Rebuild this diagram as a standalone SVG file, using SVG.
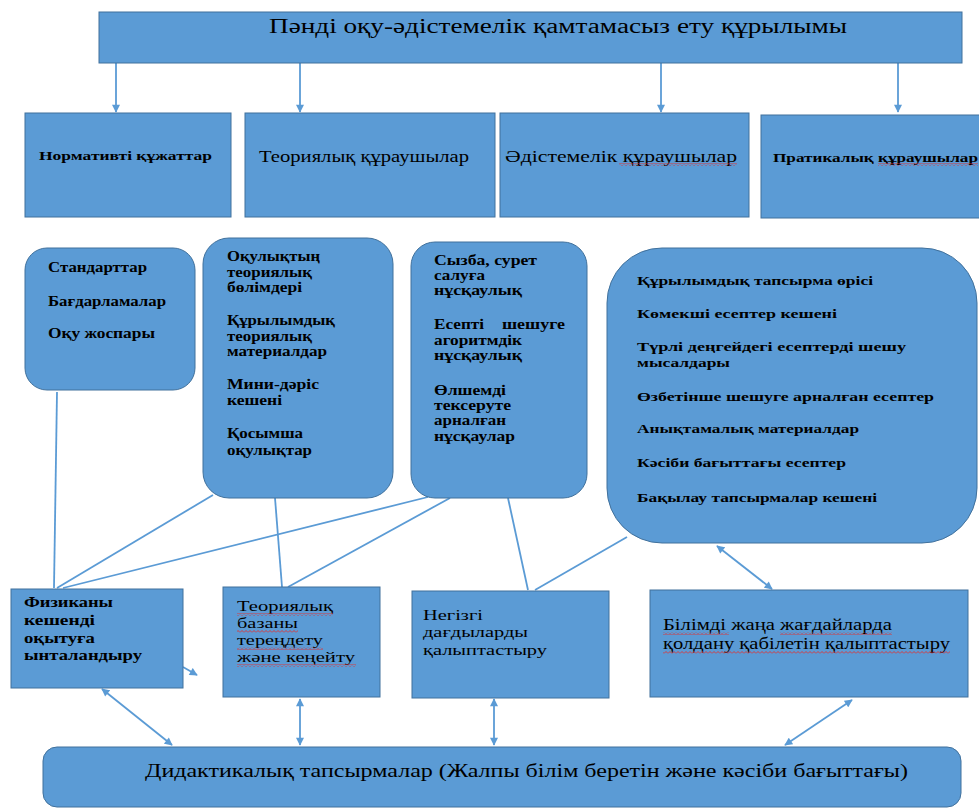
<svg xmlns="http://www.w3.org/2000/svg" width="979" height="809" viewBox="0 0 979 809">
<style>
.box{fill:#5B9BD5;stroke:#41719C;stroke-width:1}
.t{font-family:"Liberation Serif","Times New Roman",serif;fill:#000}
.b{font-weight:bold}
.c{stroke:#5B9BD5;stroke-width:1.8;fill:none}
.sq{fill:url(#wave)}
</style>
<defs>
<marker id="ah" viewBox="0 0 10 10" refX="9" refY="5" markerWidth="9" markerHeight="8" markerUnits="userSpaceOnUse" orient="auto-start-reverse">
<path d="M0 0 L10 5 L0 10 z" fill="#5B9BD5"/>
</marker>
<pattern id="wave" width="4" height="3" patternUnits="userSpaceOnUse">
<path d="M0 2.5 L2 0.5 L4 2.5" fill="none" stroke="#E03030" stroke-width="0.9"/>
</pattern>
</defs>
<rect width="979" height="809" fill="#fff"/>

<g id="connectors">
<line class="c" x1="116" y1="63" x2="116" y2="112" marker-end="url(#ah)"/>
<line class="c" x1="300" y1="63" x2="300" y2="112" marker-end="url(#ah)"/>
<line class="c" x1="661" y1="63" x2="661" y2="112" marker-end="url(#ah)"/>
<line class="c" x1="898" y1="63" x2="898" y2="112" marker-end="url(#ah)"/>
<line class="c" x1="57" y1="392" x2="54" y2="588"/>
<line class="c" x1="213" y1="495" x2="57" y2="588"/>
<line class="c" x1="428" y1="497" x2="63" y2="588"/>
<line class="c" x1="275" y1="498" x2="282" y2="587"/>
<line class="c" x1="450" y1="498" x2="288" y2="587"/>
<line class="c" x1="508" y1="498" x2="528" y2="590"/>
<line class="c" x1="627" y1="537" x2="535" y2="590"/>
<line class="c" x1="717" y1="546" x2="772" y2="589" marker-start="url(#ah)" marker-end="url(#ah)"/>
<line class="c" x1="102" y1="689" x2="172" y2="745" marker-start="url(#ah)" marker-end="url(#ah)"/>
<line class="c" x1="300" y1="699" x2="300" y2="745" marker-start="url(#ah)" marker-end="url(#ah)"/>
<line class="c" x1="494" y1="699" x2="494" y2="745" marker-start="url(#ah)" marker-end="url(#ah)"/>
<line class="c" x1="852" y1="700" x2="785" y2="745" marker-start="url(#ah)" marker-end="url(#ah)"/>
<line class="c" x1="183" y1="667" x2="197" y2="675" marker-end="url(#ah)"/>
</g>

<g id="title">
<rect class="box" x="99" y="12" width="863" height="51"/>
<text class="t" x="269" y="33" font-size="20" textLength="578" lengthAdjust="spacingAndGlyphs">Пәнді оқу-әдістемелік қамтамасыз ету құрылымы</text>
</g>

<g id="normative">
<rect class="box" x="25" y="113" width="206" height="104"/>
<text class="t b" x="39" y="160" font-size="13" textLength="173" lengthAdjust="spacingAndGlyphs">Нормативті құжаттар</text>
</g>
<g id="theory">
<rect class="box" x="245" y="113" width="250" height="104"/>
<text class="t" x="259" y="162" font-size="16" textLength="210" lengthAdjust="spacingAndGlyphs">Теориялық құраушылар</text>
</g>
<g id="method">
<rect class="box" x="500" y="113" width="249" height="104"/>
<text class="t" x="505" y="162" font-size="16" textLength="232" lengthAdjust="spacingAndGlyphs">Әдістемелік құраушылар</text>
<rect class="sq" x="619" y="163" width="118" height="3"/>
</g>
<g id="practice">
<rect class="box" x="761" y="115" width="222" height="103"/>
<text class="t b" x="773" y="162" font-size="13" textLength="205" lengthAdjust="spacingAndGlyphs">Пратикалық құраушылар</text>
<rect class="sq" x="878" y="163" width="100" height="3"/>
</g>

<g id="standards">
<rect class="box" x="25" y="248" width="170" height="142" rx="22"/>
<text class="t b" x="48" y="272" font-size="14" textLength="99" lengthAdjust="spacingAndGlyphs">Стандарттар</text>
<text class="t b" x="48" y="306" font-size="14" textLength="118" lengthAdjust="spacingAndGlyphs">Бағдарламалар</text>
<text class="t b" x="48" y="338" font-size="14" textLength="107" lengthAdjust="spacingAndGlyphs">Оқу жоспары</text>
</g>

<g id="textbooks">
<rect class="box" x="203" y="238" width="190" height="260" rx="26"/>
<text class="t b" x="227" y="261" font-size="14" textLength="93" lengthAdjust="spacingAndGlyphs">Оқулықтың</text>
<text class="t b" x="227" y="277" font-size="14" textLength="85" lengthAdjust="spacingAndGlyphs">теориялық</text>
<text class="t b" x="227" y="292" font-size="14" textLength="75" lengthAdjust="spacingAndGlyphs">бөлімдері</text>
<text class="t b" x="227" y="325" font-size="14" textLength="108" lengthAdjust="spacingAndGlyphs">Құрылымдық</text>
<text class="t b" x="227" y="341" font-size="14" textLength="85" lengthAdjust="spacingAndGlyphs">теориялық</text>
<text class="t b" x="227" y="356" font-size="14" textLength="100" lengthAdjust="spacingAndGlyphs">материалдар</text>
<text class="t b" x="227" y="389" font-size="14" textLength="92" lengthAdjust="spacingAndGlyphs">Мини-дәріс</text>
<text class="t b" x="227" y="405" font-size="14" textLength="55" lengthAdjust="spacingAndGlyphs">кешені</text>
<text class="t b" x="227" y="438" font-size="14" textLength="76" lengthAdjust="spacingAndGlyphs">Қосымша</text>
<text class="t b" x="227" y="455" font-size="14" textLength="85" lengthAdjust="spacingAndGlyphs">оқулықтар</text>
</g>

<g id="instructions">
<rect class="box" x="411" y="242" width="176" height="256" rx="24"/>
<text class="t b" x="434" y="265" font-size="14" textLength="103" lengthAdjust="spacingAndGlyphs">Сызба, сурет</text>
<text class="t b" x="434" y="280" font-size="14" textLength="51" lengthAdjust="spacingAndGlyphs">салуға</text>
<text class="t b" x="434" y="295" font-size="14" textLength="88" lengthAdjust="spacingAndGlyphs">нұсқаулық</text>
<text class="t b" x="434" y="329" font-size="14" textLength="50" lengthAdjust="spacingAndGlyphs">Есепті</text>
<text class="t b" x="502" y="329" font-size="14" textLength="63" lengthAdjust="spacingAndGlyphs">шешуге</text>
<text class="t b" x="434" y="345" font-size="14" textLength="88" lengthAdjust="spacingAndGlyphs">агоритмдік</text>
<text class="t b" x="434" y="360" font-size="14" textLength="88" lengthAdjust="spacingAndGlyphs">нұсқаулық</text>
<text class="t b" x="434" y="395" font-size="14" textLength="72" lengthAdjust="spacingAndGlyphs">Өлшемді</text>
<text class="t b" x="434" y="410" font-size="14" textLength="77" lengthAdjust="spacingAndGlyphs">тексеруте</text>
<text class="t b" x="434" y="425" font-size="14" textLength="72" lengthAdjust="spacingAndGlyphs">арналған</text>
<text class="t b" x="434" y="441" font-size="14" textLength="81" lengthAdjust="spacingAndGlyphs">нұсқаулар</text>
</g>

<g id="tasks">
<rect class="box" x="607" y="248" width="370" height="295" rx="55"/>
<text class="t b" x="637" y="285" font-size="13" textLength="236" lengthAdjust="spacingAndGlyphs">Құрылымдық тапсырма өрісі</text>
<text class="t b" x="637" y="318" font-size="13" textLength="200" lengthAdjust="spacingAndGlyphs">Көмекші есептер кешені</text>
<text class="t b" x="637" y="351" font-size="13" textLength="269" lengthAdjust="spacingAndGlyphs">Түрлі деңгейдегі есептерді шешу</text>
<text class="t b" x="637" y="367" font-size="13" textLength="93" lengthAdjust="spacingAndGlyphs">мысалдары</text>
<text class="t b" x="637" y="401" font-size="13" textLength="297" lengthAdjust="spacingAndGlyphs">Өзбетінше шешуге арналған есептер</text>
<text class="t b" x="637" y="433" font-size="13" textLength="222" lengthAdjust="spacingAndGlyphs">Анықтамалық материалдар</text>
<text class="t b" x="637" y="467" font-size="13" textLength="209" lengthAdjust="spacingAndGlyphs">Кәсіби бағыттағы есептер</text>
<text class="t b" x="637" y="502" font-size="13" textLength="240" lengthAdjust="spacingAndGlyphs">Бақылау тапсырмалар кешені</text>
</g>

<g id="motivation">
<rect class="box" x="11" y="589" width="172" height="99"/>
<text class="t b" x="24" y="607" font-size="15" textLength="89" lengthAdjust="spacingAndGlyphs">Физиканы</text>
<text class="t b" x="24" y="625" font-size="15" textLength="71" lengthAdjust="spacingAndGlyphs">кешенді</text>
<text class="t b" x="24" y="643" font-size="15" textLength="71" lengthAdjust="spacingAndGlyphs">оқытуға</text>
<text class="t b" x="24" y="660" font-size="15" textLength="118" lengthAdjust="spacingAndGlyphs">ынталандыру</text>
</g>

<g id="deepen">
<rect class="box" x="223" y="587" width="157" height="110"/>
<text class="t" x="237" y="611" font-size="15.5" textLength="96" lengthAdjust="spacingAndGlyphs">Теориялық</text>
<text class="t" x="237" y="628" font-size="15.5" textLength="61" lengthAdjust="spacingAndGlyphs">базаны</text>
<text class="t" x="237" y="645" font-size="15.5" textLength="86" lengthAdjust="spacingAndGlyphs">тереңдету</text>
<text class="t" x="237" y="662" font-size="15.5" textLength="118" lengthAdjust="spacingAndGlyphs">және кеңейту</text>
<rect class="sq" x="237" y="613" width="96" height="3"/>
<rect class="sq" x="237" y="630" width="61" height="3"/>
<rect class="sq" x="237" y="647" width="86" height="3"/>
<rect class="sq" x="237" y="664" width="119" height="3"/>
</g>

<g id="skills">
<rect class="box" x="412" y="591" width="197" height="107"/>
<text class="t" x="423" y="620" font-size="15.5" textLength="60" lengthAdjust="spacingAndGlyphs">Негізгі</text>
<text class="t" x="423" y="637" font-size="15.5" textLength="105" lengthAdjust="spacingAndGlyphs">дағдыларды</text>
<text class="t" x="423" y="655" font-size="15.5" textLength="124" lengthAdjust="spacingAndGlyphs">қалыптастыру</text>
</g>

<g id="apply">
<rect class="box" x="650" y="590" width="318" height="107"/>
<text class="t" x="663" y="630" font-size="16" textLength="229" lengthAdjust="spacingAndGlyphs">Білімді жаңа жағдайларда</text>
<text class="t" x="663" y="649" font-size="16" textLength="287" lengthAdjust="spacingAndGlyphs">қолдану қабілетін қалыптастыру</text>
<rect class="sq" x="663" y="632" width="66" height="3"/>
<rect class="sq" x="780" y="632" width="112" height="3"/>
<rect class="sq" x="663" y="651" width="287" height="3"/>
</g>

<g id="didactic">
<rect class="box" x="43" y="747" width="918" height="60" rx="14"/>
<text class="t" x="145" y="777" font-size="19" textLength="763" lengthAdjust="spacingAndGlyphs">Дидактикалық тапсырмалар (Жалпы білім беретін және кәсіби бағыттағы)</text>
</g>
</svg>
